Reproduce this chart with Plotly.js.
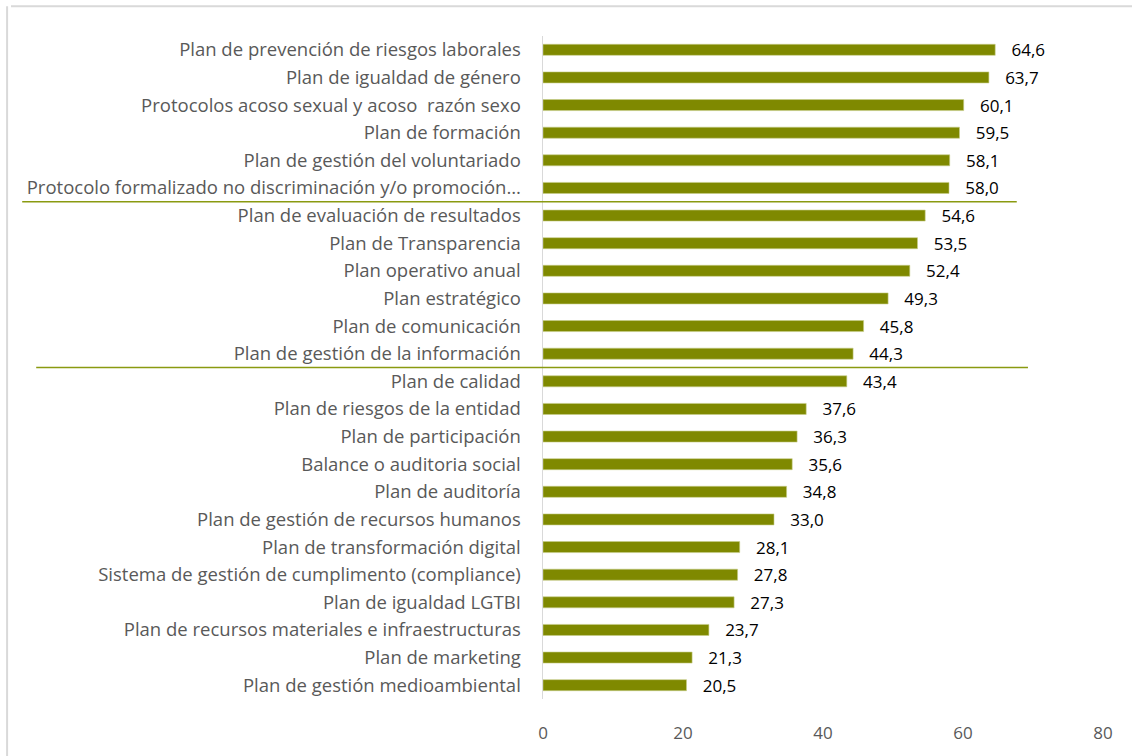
<!DOCTYPE html>
<html>
<head>
<meta charset="utf-8">
<script src="https://cdn.plot.ly/plotly-3.0.1.min.js"></script>
<style>
  html, body { margin: 0; padding: 0; background: #ffffff; }
  #chart { width: 1132px; height: 756px; }
</style>
</head>
<body>
<div id="chart"></div>
<script>
const categories = [
  "Plan de prevención de riesgos laborales",
  "Plan de igualdad de género",
  "Protocolos acoso sexual y acoso  razón sexo",
  "Plan de formación",
  "Plan de gestión del voluntariado",
  "Protocolo formalizado no discriminación y/o promoción…",
  "Plan de evaluación de resultados",
  "Plan de Transparencia",
  "Plan operativo anual",
  "Plan estratégico",
  "Plan de comunicación",
  "Plan de gestión de la información",
  "Plan de calidad",
  "Plan de riesgos de la entidad",
  "Plan de participación",
  "Balance o auditoria social",
  "Plan de auditoría",
  "Plan de gestión de recursos humanos",
  "Plan de transformación digital",
  "Sistema de gestión de cumplimento (compliance)",
  "Plan de igualdad LGTBI",
  "Plan de recursos materiales e infraestructuras",
  "Plan de marketing",
  "Plan de gestión medioambiental"
];
const values = [64.6, 63.7, 60.1, 59.5, 58.1, 58.0, 54.6, 53.5, 52.4, 49.3, 45.8, 44.3,
                43.4, 37.6, 36.3, 35.6, 34.8, 33.0, 28.1, 27.8, 27.3, 23.7, 21.3, 20.5];
const xTicks = [0, 20, 40, 60, 80];

const olive = '#7f8900';
const sepColor = '#8a9a10';

const trace = {
  type: 'bar',
  orientation: 'h',
  x: values,
  y: categories,
  marker: { color: olive, line: { color: '#c8cf8a', width: 0.6 } },
  texttemplate: '\u00a0\u00a0\u00a0%{x:.1f}',
  textposition: 'outside',
  constraintext: 'none',
  cliponaxis: false,
  textfont: { family: 'Open Sans, sans-serif', size: 17, color: '#000000' },
  hoverinfo: 'skip'
};

const layout = {
  width: 1132,
  height: 756,
  separators: ',.',
  margin: { l: 543, r: 29, t: 36, b: 57 },
  paper_bgcolor: '#ffffff',
  plot_bgcolor: '#ffffff',
  showlegend: false,
  bargap: 0.6,
  font: { family: 'Open Sans, sans-serif', color: '#595959' },
  xaxis: {
    range: [0, 80],
    tickvals: xTicks,
    ticktext: xTicks.map(String),
    showgrid: false,
    zeroline: false,
    showline: false,
    ticks: '',
    ticklabelstandoff: 22,
    tickfont: { family: 'Open Sans, sans-serif', size: 17, color: '#595959' }
  },
  yaxis: {
    type: 'category',
    autorange: 'reversed',
    showgrid: false,
    zeroline: false,
    showline: true,
    linecolor: '#d9d9d9',
    linewidth: 1.5,
    ticks: '',
    ticklabelstandoff: 17,
    tickfont: { family: 'Open Sans, sans-serif', size: 18.5, color: '#595959' }
  },
  shapes: [
    { type: 'line', xref: 'paper', yref: 'paper', x0: -0.95, x1: 2, y0: 1.045, y1: 1.045,
      line: { color: '#d9d9d9', width: 2 } },
    { type: 'line', xref: 'paper', yref: 'paper', x0: -0.957, x1: -0.957, y0: 1.045, y1: -1,
      line: { color: '#d9d9d9', width: 2 } },
    { type: 'line', xref: 'paper', yref: 'y', x0: -0.93, x1: 0.846, y0: 5.5, y1: 5.5,
      line: { color: sepColor, width: 1.5 } },
    { type: 'line', xref: 'paper', yref: 'y', x0: -0.905, x1: 0.866, y0: 11.5, y1: 11.5,
      line: { color: sepColor, width: 1.5 } }
  ]
};

Plotly.newPlot('chart', [trace], layout, { displayModeBar: false, staticPlot: true });
</script>
</body>
</html>
